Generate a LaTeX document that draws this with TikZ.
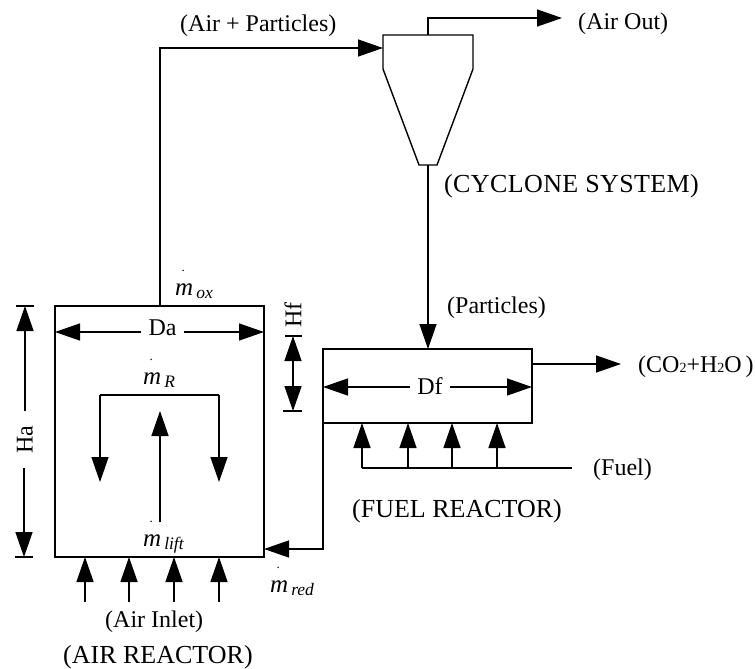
\documentclass[tikz,border=0pt]{standalone}
\usepackage{fontspec}
\setmainfont{Liberation Serif}
\usetikzlibrary{arrows.meta}
\newcommand{\mflow}[1]{\makebox[0pt][l]{\hspace{6.5pt}\smash{\raisebox{24pt}{\fontsize{13}{13}\selectfont .}}}{\fontsize{25}{25}\selectfont\itshape m}\hspace{3pt}\smash{\raisebox{-3pt}{\fontsize{17.5}{17.5}\selectfont\itshape #1}}}
\newcommand{\subd}[1]{{\fontsize{14}{14}\selectfont #1}}
\tikzset{
  flow/.style={-{Triangle[length=25pt,width=17pt]},line width=1.4pt},
  plain/.style={line width=1.4pt},
  reactor/.style={draw,line width=1.4pt,outer sep=0pt,inner sep=0pt},
  tag/.style={anchor=base west,inner sep=0pt,font=\fontsize{24}{24}\selectfont},
  title/.style={anchor=base west,inner sep=0pt,font=\fontsize{26}{26}\selectfont},
  dimtext/.style={font=\fontsize{24}{24}\selectfont,inner sep=#1},
  dimtext/.default=8pt,
}
\begin{document}
\begin{tikzpicture}[x=1pt,y=-1pt]
  \useasboundingbox (0,0) rectangle (755,669);
  % reactors
  \node[reactor,minimum width=209pt,minimum height=251pt] (airr) at (159.5,431.5) {};
  \node[reactor,minimum width=209pt,minimum height=74pt] (fuelr) at (427.5,386) {};
  % cyclone
  \coordinate (cyin) at (383,48);
  \coordinate (cyout) at (428,35);
  \coordinate (cybot) at (428,165);
  \draw[plain,line join=miter] (383,35) -- (473,35) -- (473,69) -- (437,165) -- (419,165) -- (383,69) -- cycle;
  % free ends
  \coordinate (outend) at (562,18);
  \coordinate (co2end) at (621,364);
  \coordinate (fuelend) at (572,468);
  \coordinate (fueljoin) at (362,468);
  % main streams
  \draw[flow] (airr.north -| 160,0) |- (cyin);
  \draw[flow] (cyout) |- (outend);
  \draw[flow] (cybot) -- (fuelr.north -| cybot);
  \draw[flow] (fuelr.east |- co2end) -- (co2end);
  \draw[flow] (fuelr.south west) |- (airr.east |- 0,549);
  \draw[plain] (fuelend) -- (fueljoin);
  \foreach \x in {362,408,452,497}
    \draw[flow] (\x,468) -- (fuelr.south -| \x,0);
  \foreach \x in {85,129,174,219}
    \draw[flow] (\x,602) -- (airr.south -| \x,0);
  % inner loop
  \draw[flow] (160,522) -- (160,411);
  \draw[plain] (100,395) -- (219,395);
  \draw[flow] (100,395) -- (100,482);
  \draw[flow] (219,395) -- (219,482);
  % dimensions
  \node[dimtext=7pt] (da) at (162.5,328) {Da};
  \draw[flow] (da.west |- 0,332) -- (airr.west |- 0,332);
  \draw[flow] (da.east |- 0,332) -- (airr.east |- 0,332);
  \node[dimtext=7pt] (df) at (430,386) {Df};
  \draw[flow] (df.west |- 0,387) -- (fuelr.west |- 0,387);
  \draw[flow] (df.east |- 0,387) -- (fuelr.east |- 0,387);
  \node[dimtext=14pt,rotate=90] (ha) at (25,439.5) {Ha};
  \draw[flow] (ha.east -| 25,0) -- (25,306);
  \draw[flow] (ha.west -| 24,0) -- (24,557);
  \draw[plain] (16,306) -- (34,306) (15,557) -- (33,557);
  \node[dimtext=0pt,rotate=90] (hf) at (293,315) {Hf};
  \draw[flow,{Triangle[length=25pt,width=17pt]}-{Triangle[length=25pt,width=17pt]}] (293,336) -- (293,411);
  \draw[plain] (285,336) -- (302,336) (283,411) -- (302,411);
  % streams and titles
  \node[tag] (lblmix) at (180,32) {(Air + Particles)};
  \node[tag] (lblout) at (578,30) {(Air Out)};
  \node[title] (lblcy) at (444,192) {\addfontfeature{LetterSpace=1.5}(CYCLONE SYSTEM)};
  \node[tag] (lblpart) at (447,313) {(Particles)};
  \node[tag] (lblco2) at (638,372) {(CO\subd{2}+H\subd{2}O\hspace{4pt})};
  \node[tag] (lblfuel) at (593,475) {(Fuel)};
  \node[title] (lblfr) at (352,517) {(FUEL REACTOR)};
  \node[tag] (lblair) at (105,627) {(Air Inlet)};
  \node[title] (lblar) at (63,663) {(AIR REACTOR)};
  % mass flows
  \node[tag] (mox) at (175,295) {\mflow{ox}};
  \node[tag] (mr) at (143,384) {\mflow{R}};
  \node[tag] (mlift) at (143,546) {\mflow{lift}};
  \node[tag] (mred) at (270,592) {\mflow{red}};
\end{tikzpicture}
\end{document}
